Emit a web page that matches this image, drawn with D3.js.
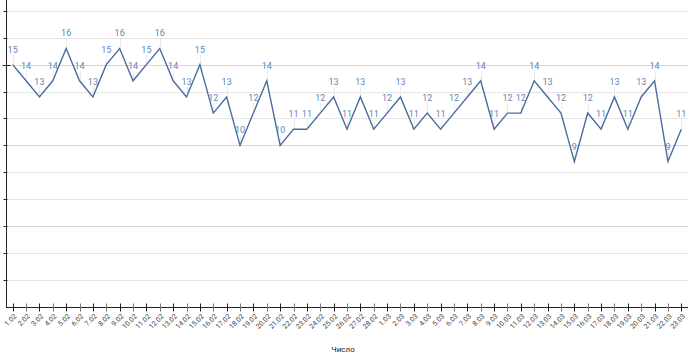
<!DOCTYPE html>
<html>
<head>
<meta charset="utf-8">
<script src="https://cdn.jsdelivr.net/npm/d3@7"></script>
<style>
  html, body { margin: 0; padding: 0; background: #fff; }
  svg { display: block; font-family: Roboto, "Noto Sans", sans-serif; }
</style>
</head>
<body>
<svg id="chart" width="700" height="355"></svg>
<script>
const categories = ["1.02","2.02","3.02","4.02","5.02","6.02","7.02","8.02","9.02","10.02",
  "11.02","12.02","13.02","14.02","15.02","16.02","17.02","18.02","19.02","20.02",
  "21.02","22.02","23.02","24.02","25.02","26.02","27.02","28.02",
  "1.03","2.03","3.03","4.03","5.03","6.03","7.03","8.03","9.03","10.03",
  "11.03","12.03","13.03","14.03","15.03","16.03","17.03","18.03","19.03","20.03",
  "21.03","22.03","23.03"];
const values = [15,14,13,14,16,14,13,15,16,14,
  15,16,14,13,15,12,13,10,12,14,
  10,11,11,12,13,11,13,11,
  12,13,11,12,11,12,13,14,11,12,
  12,14,13,12,9,12,11,13,11,13,
  14,9,11];
const yTicks = [0, 5/3, 10/3, 5, 20/3, 25/3, 10, 35/3, 40/3, 15, 50/3, 55/3];
const xTitle = "Число";

const svg = d3.select("#chart");
const mLeft = 6, mRight = 688, mBottom = 307, mTop = 0;

const x = d3.scaleBand().domain(categories).range([mLeft, mRight]);
const y = d3.scaleLinear().domain([0, 19]).range([mBottom, mTop]);
const cx = d => x(d) + x.bandwidth() / 2;
const isMajor = d => Math.abs(d / 5 - Math.round(d / 5)) < 1e-6;

// gridlines
svg.append("g").selectAll("line").data(yTicks.slice(1)).join("line")
  .attr("x1", mLeft).attr("x2", mRight)
  .attr("y1", d => Math.round(y(d)) + 0.5).attr("y2", d => Math.round(y(d)) + 0.5)
  .attr("stroke", d => isMajor(d) ? "#d6d6d6" : "#e6e6e6")
  .attr("stroke-width", 1);

// y axis
const yAxis = svg.append("g").attr("transform", `translate(${mLeft + 0.5},0)`);
yAxis.append("line").attr("x1", 0).attr("x2", 0).attr("y1", 0).attr("y2", mBottom)
  .attr("stroke", "#222");
yAxis.selectAll("line.t").data(yTicks.slice(1)).join("line").attr("class", "t")
  .attr("x1", d => Math.abs(d - 15) < 1e-6 ? -4 : -3)
  .attr("x2", d => Math.abs(d - 15) < 1e-6 ? 4 : 1)
  .attr("y1", d => Math.round(y(d)) + 0.5).attr("y2", d => Math.round(y(d)) + 0.5)
  .attr("stroke", "#222");

// x axis
const xAxis = svg.append("g").attr("transform", `translate(0,${mBottom + 0.5})`);
xAxis.append("line").attr("x1", mLeft).attr("x2", mRight).attr("stroke", "#222");
xAxis.selectAll("line.t").data(categories).join("line").attr("class", "t")
  .attr("x1", d => Math.round(cx(d)) + 0.5).attr("x2", d => Math.round(cx(d)) + 0.5)
  .attr("y1", -4).attr("y2", 4)
  .attr("stroke", (d, i) => i % 2 ? "#777" : "#222");
xAxis.append("g").selectAll("text").data(categories).join("text")
  .attr("transform", d => `translate(${cx(d) + 3},${8}) rotate(-45)`)
  .attr("text-anchor", "end")
  .attr("dominant-baseline", "middle")
  .attr("font-size", 7)
  .attr("fill", "#444")
  .text(d => d);

svg.append("text")
  .attr("x", 343).attr("y", 352)
  .attr("text-anchor", "middle")
  .attr("font-size", 8)
  .attr("fill", "#222")
  .text(xTitle);

const pts = categories.map((c, i) => ({ c, v: values[i] }));

// leader lines
svg.append("g").selectAll("line").data(pts).join("line")
  .attr("x1", d => Math.round(cx(d.c)) + 0.5).attr("x2", d => Math.round(cx(d.c)) + 0.5)
  .attr("y1", d => y(d.v) - 10).attr("y2", d => y(d.v))
  .attr("stroke", "#eaeaea").attr("stroke-width", 1);

// line
const line = d3.line().x(d => cx(d.c)).y(d => y(d.v));
svg.append("path").datum(pts)
  .attr("d", line)
  .attr("fill", "none")
  .attr("stroke", "#4a6c9e")
  .attr("stroke-width", 1.4)
  .attr("stroke-linejoin", "miter");

// value labels (tiny rotation keeps glyph antialiasing greyscale)
svg.append("g").selectAll("text").data(pts).join("text")
  .attr("transform", d => `translate(${cx(d.c)},${y(d.v) - 12}) rotate(0.01)`)
  .attr("text-anchor", "middle")
  .attr("font-size", 9)
  .attr("fill", "#6486b6")
  .text(d => d.v);
</script>
</body>
</html>
